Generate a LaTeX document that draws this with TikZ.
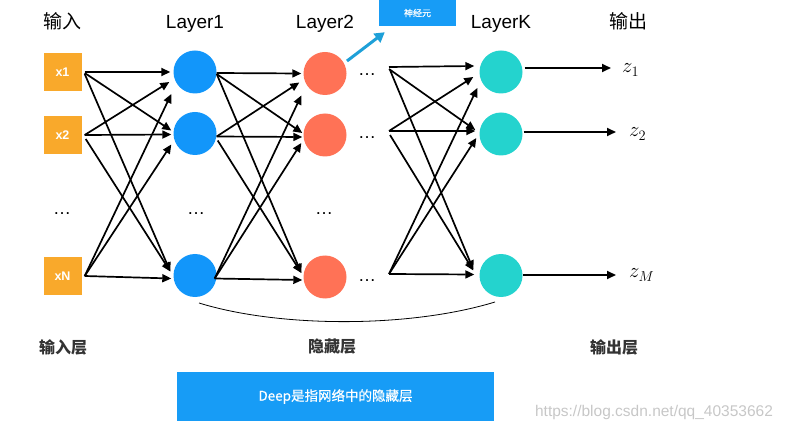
\documentclass[tikz,border=0pt]{standalone}
\usepackage{fontspec}
\setmainfont{Liberation Sans}
\newfontfamily\cjk{Noto Sans CJK SC}
\newfontfamily\cjkm[FakeBold=0.6]{Noto Sans CJK SC}
\usetikzlibrary{arrows.meta,calc}
\definecolor{inorange}{HTML}{F9A92B}
\definecolor{lblue}{HTML}{1296FA}
\definecolor{ltomato}{HTML}{FF7256}
\definecolor{lteal}{HTML}{24D3CE}
\definecolor{boxblue}{HTML}{179CF6}
\definecolor{arrblue}{HTML}{1EA0D8}
\definecolor{darktext}{HTML}{333333}
\tikzset{
  inbox/.style={fill=inorange, minimum width=38pt, minimum height=38pt, inner sep=0pt, text=white, font=\bfseries\fontsize{12.5}{14}\selectfont},
  neuron/.style={circle, minimum size=43pt, inner sep=0pt},
  l1n/.style={neuron, fill=lblue},
  l2n/.style={neuron, fill=ltomato},
  lkn/.style={neuron, fill=lteal},
  header/.style={anchor=base, font=\fontsize{19}{22}\selectfont},
  cjkheader/.style={anchor=base, font=\cjk\fontsize{19}{22}\selectfont},
  dotsn/.style={anchor=base, inner sep=0pt, font=\fontsize{18}{20}\selectfont},
  conn/.style={line width=1.7pt, -{Triangle[length=9pt,width=8pt]}},
  outlbl/.style={anchor=base west, inner sep=0pt, font=\fontsize{21}{24}\selectfont},
  bottomlbl/.style={text=darktext, font=\cjk\bfseries\fontsize{16}{18}\selectfont},
}
\begin{document}
\begin{tikzpicture}[x=1pt,y=-1pt]
\useasboundingbox (0,0) rectangle (792,430);

% headers
\node[cjkheader] (hin) at (62.5,29) {输入};
\node[header] (h1) at (195,29) {Layer1};
\node[header] (h2) at (325,29) {Layer2};
\node[header] (hk) at (501,29) {LayerK};
\node[cjkheader] (hout) at (628,29) {输出};

% input boxes
\node[inbox] (x1) at (62.5,72) {x1};
\node[inbox] (x2) at (62.5,135) {x2};
\node[inbox] (xn) at (62.5,276) {xN};
\node[dotsn] (d0) at (62,215) {…};

% layer 1
\node[l1n] (a1) at (195,72) {};
\node[l1n] (a2) at (195,133.5) {};
\node[l1n] (an) at (195,275.5) {};
\node[dotsn] (d1) at (196,215) {…};

% layer 2
\node[l2n] (b1) at (325,73.5) {};
\node[l2n] (b2) at (325,135) {};
\node[l2n] (bn) at (325,277) {};
\node[dotsn] (d2) at (324,215) {…};
\node[dotsn] (e1) at (367,76) {…};
\node[dotsn] (e2) at (367,139) {…};
\node[dotsn] (en) at (367,282) {…};

% layer K
\node[lkn] (k1) at (501,72) {};
\node[lkn] (k2) at (501,134) {};
\node[lkn] (kn) at (501,275.5) {};

% sources after layer 2 dots
\coordinate (s1) at (389,67);
\coordinate (s2) at (389,131);
\coordinate (sn) at (389,274);

% input -> layer1
\draw[conn] ($(x1.east)+(3,0)$) -- ($(a1.west)+(-3,0)$);
\draw[conn] ($(x1.east)+(3,1)$) -- ($(a2.west)+(-2,-3)$);
\draw[conn] ($(x1.east)+(3,2)$) -- ($(an.west)+(-3,-4)$);
\draw[conn] ($(x2.east)+(3,0)$) -- ($(a1.west)+(-4,10)$);
\draw[conn] ($(x2.east)+(3,0)$) -- ($(a2.west)+(-2,1)$);
\draw[conn] ($(x2.east)+(4,4)$) -- ($(an.west)+(-3,-4)$);
\draw[conn] ($(xn.east)+(3,0)$) -- ($(a1.west)+(-2,22)$);
\draw[conn] ($(xn.east)+(3,0)$) -- ($(a2.west)+(-2,11)$);
\draw[conn] ($(xn.east)+(3,0)$) -- ($(an.west)+(-2,3)$);

% layer1 -> layer2
\draw[conn] ($(a1.east)+(0,1)$) -- ($(b1.west)+(-2,0)$);
\draw[conn] ($(a1.east)+(0,2)$) -- ($(b2.west)+(-1,-2)$);
\draw[conn] ($(a1.east)+(0,2)$) -- ($(bn.west)+(-2,-4)$);
\draw[conn] ($(a2.east)+(0,3)$) -- ($(b1.west)+(-4,9)$);
\draw[conn] ($(a2.east)+(0,3)$) -- ($(b2.west)+(-1,2)$);
\draw[conn] ($(a2.east)+(1,7)$) -- ($(bn.west)+(-2,-4)$);
\draw[conn] ($(an.east)+(-2,3)$) -- ($(b1.west)+(-2,22)$);
\draw[conn] ($(an.east)+(-2,3)$) -- ($(b2.west)+(-2,8)$);
\draw[conn] ($(an.east)+(-2,3)$) -- ($(bn.west)+(-1,3)$);

% dots -> layer K
\draw[conn] (s1) -- ($(k1.west)+(-5,-6)$);
\draw[conn] ($(s1)+(0,2)$) -- ($(k2.west)+(-4,-4)$);
\draw[conn] ($(s1)+(1,3)$) -- ($(kn.west)+(-6,-6)$);
\draw[conn] (s2) -- ($(k1.west)+(-6,5)$);
\draw[conn] (s2) -- ($(k2.west)+(-4,-3)$);
\draw[conn] ($(s2)+(1,4)$) -- ($(kn.west)+(-6,-5)$);
\draw[conn] (sn) -- ($(k1.west)+(-2,16)$);
\draw[conn] (sn) -- ($(k2.west)+(-3,4)$);
\draw[conn] (sn) -- ($(kn.west)+(-5,-1)$);

% outputs
\node[outlbl] (z1) at (622,73) {$z_1$};
\node[outlbl] (z2) at (629,137) {$z_2$};
\node[outlbl] (zm) at (629,278) {$z_M$};
\coordinate (o1) at (611,68);
\coordinate (o2) at (616,132);
\coordinate (om) at (616,275);
\draw[conn] ($(k1.east)+(2,-4)$) -- (o1);
\draw[conn] ($(k2.east)+(1,-2)$) -- (o2);
\draw[conn] ($(kn.east)+(0,-0.5)$) -- (om);

% neuron label box and arrow
\node[fill=boxblue, minimum width=77pt, minimum height=26pt, inner sep=0pt, text=white, font=\cjkm\fontsize{9}{10}\selectfont] (nb) at (417.5,13) {神经元};
\coordinate (na) at (347,61);
\draw[arrblue, line width=3pt, -{Triangle[length=10pt,width=11pt]}] (na) -- ($(nb.south west)+(6,6)$);

% curve under hidden layers
\coordinate (cl) at (199,303);
\coordinate (cr) at (495,302);
\draw[line width=0.8pt] (cl) .. controls (280,328) and (410,328) .. (cr);

% bottom labels
\node[bottomlbl] (lin) at (63,347) {输入层};
\node[bottomlbl] (lhid) at (332,347) {隐藏层};
\node[bottomlbl] (lout) at (614,347) {输出层};

% deep box
\node[fill=boxblue, minimum width=317pt, minimum height=49pt, inner sep=0pt, text=white, font=\cjkm\fontsize{13.5}{15}\selectfont] (deep) at (335.5,396.5) {Deep是指网络中的隐藏层};

% watermark
\node[text=black!22, font=\fontsize{15.5}{17}\selectfont, inner sep=0pt] (wm) at (654,412) {https://blog.csdn.net/qq\_40353662};
\end{tikzpicture}
\end{document}
